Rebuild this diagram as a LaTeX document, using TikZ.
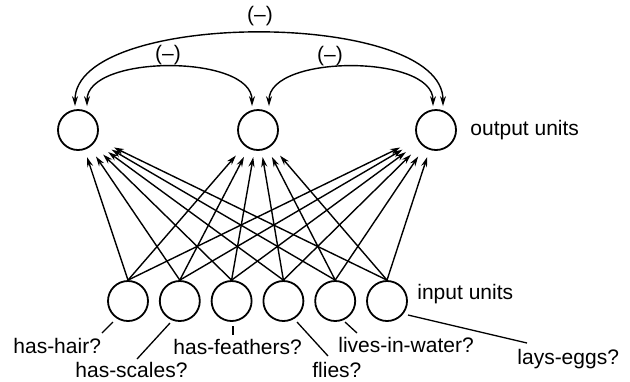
\documentclass[tikz,border=0pt]{standalone}
\usepackage{fontspec}
\setmainfont{Liberation Sans}
\usetikzlibrary{positioning, arrows.meta, calc}

\begin{document}
\begin{tikzpicture}[
    x=0.5pt, y=-0.5pt,
    font=\fontsize{10.5}{12}\selectfont,
    unit/.style={draw, circle, line width=0.9pt, minimum size=20pt, inner sep=0pt},
    conn/.style={-{Stealth[length=5pt, width=3pt]}, line width=0.7pt},
    inhib/.style={{Stealth[length=5pt, width=3pt]}-{Stealth[length=5pt, width=3pt]}, line width=0.7pt},
    lead/.style={line width=0.65pt},
    txt/.style={inner sep=0pt, anchor=base west}
]
    \useasboundingbox (0,0) rectangle (630,381);

    % output layer
    \node[unit] (o1) at (78,130) {};
    \node[unit] (o2) at (258,130) {};
    \node[unit] (o3) at (436,130) {};
    \node[txt] (outlbl) at (470,135) {output units};

    % input layer
    \node[unit] (i1) at (128,301) {};
    \node[unit] (i2) [right=5pt of i1] {};
    \node[unit] (i3) [right=5pt of i2] {};
    \node[unit] (i4) [right=5pt of i3] {};
    \node[unit] (i5) [right=5pt of i4] {};
    \node[unit] (i6) [right=5pt of i5] {};
    \node[txt] (inlbl) at (417,299) {input units};

    % every input feeds every output
    \foreach \i/\ix in {1/128,2/180,3/232,4/284,5/336,6/388}
      \foreach \j/\ox in {1/78,2/258,3/436} {
        \pgfmathsetmacro\cc{((\ix-\ox)/100)^2/(((\ix-\ox)/100)^2+1.51^2)}
        \pgfmathsetmacro\dd{0.5*(27+16*\cc)}
        \draw[conn] (i\i.north) -- ($(o\j.center)!\dd pt!(i\i.north)$);
      }

    % mutual inhibition between outputs
    \coordinate (a1) at ($(o1.north)+(-3,-3)$);
    \coordinate (a2) at ($(o1.north)+(9,-3)$);
    \coordinate (b1) at ($(o2.north)+(-6,-3)$);
    \coordinate (b2) at ($(o2.north)+(11,-3)$);
    \coordinate (c1) at ($(o3.north)+(-3,-3)$);
    \coordinate (c2) at ($(o3.north)+(7,-3)$);
    \draw[inhib] (a1) .. controls +(0,-97) and +(0,-97) .. (c2);
    \draw[inhib] (a2) .. controls +(0,-52) and +(0,-52) .. (b1);
    \draw[inhib] (b2) .. controls +(0,-52) and +(0,-52) .. (c1);
    \node (nall) at (260,16) {(–)};
    \node (nleft) at (168,55) {(–)};
    \node (nright) at (330,56) {(–)};

    % feature labels
    \node[txt] (lhair) at (13,353) {has-hair?};
    \node[txt] (lscales) at (75,377) {has-scales?};
    \node[txt] (lfeath) at (173,354) {has-feathers?};
    \node[txt] (lflies) at (312,377) {flies?};
    \node[txt] (lwater) at (338,352) {lives-in-water?};
    \node[txt] (leggs) at (517,364) {lays-eggs?};

    \coordinate (h1) at (113,322); \coordinate (h2) at (102,333);
    \coordinate (s1) at (170,323); \coordinate (s2) at (137,359);
    \coordinate (f1) at (233,326); \coordinate (f2) at (233,335);
    \coordinate (y1) at (297,322); \coordinate (y2) at (328,356);
    \coordinate (w1) at (345,322); \coordinate (w2) at (357,333);
    \coordinate (e1) at (408,315); \coordinate (e2) at (527,343);
    \draw[lead] (h1) -- (h2);
    \draw[lead] (s1) -- (s2);
    \draw[lead] (f1) -- (f2);
    \draw[lead] (y1) -- (y2);
    \draw[lead] (w1) -- (w2);
    \draw[lead] (e1) -- (e2);
\end{tikzpicture}
\end{document}
